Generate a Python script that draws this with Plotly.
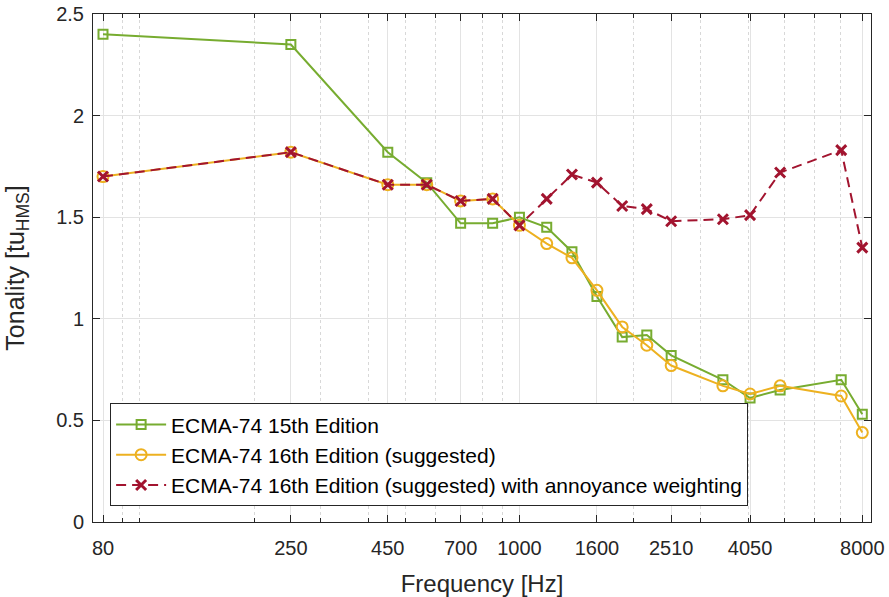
import plotly.graph_objects as go
import math

freq = [80, 250, 450, 570, 700, 850, 1000, 1180, 1375, 1600, 1865, 2165, 2510, 3435, 4050, 4860, 7040, 8000]
ecma15 = [2.40, 2.35, 1.82, 1.67, 1.47, 1.47, 1.50, 1.45, 1.33, 1.11, 0.91, 0.92, 0.82, 0.70, 0.61, 0.65, 0.70, 0.53]
ecma16 = [1.70, 1.82, 1.66, 1.66, 1.58, 1.59, 1.46, 1.37, 1.30, 1.14, 0.96, 0.87, 0.77, 0.67, 0.63, 0.67, 0.62, 0.44]
ecma16w = [1.70, 1.82, 1.66, 1.66, 1.58, 1.59, 1.46, 1.59, 1.71, 1.67, 1.555, 1.54, 1.48, 1.49, 1.51, 1.72, 1.83, 1.35]

xtick_vals = [80, 250, 450, 700, 1000, 1600, 2510, 4050, 8000]
xtick_text = ["80", "250", "450", "700", "1000", "1600", "2510", "4050", "8000"]
xminor_vals = [90, 100, 200, 300, 400, 500, 600, 800, 900, 2000, 3000, 4000, 5000, 6000, 7000]
ytick_vals = [0, 0.5, 1, 1.5, 2, 2.5]

names = ["ECMA-74 15th Edition", "ECMA-74 16th Edition (suggested)",
         "ECMA-74 16th Edition (suggested) with annoyance weighting"]

GREEN = "#77AC30"
ORANGE = "#EDB120"
RED = "#A2142F"
AX = "#262626"
FONT = "Liberation Sans, Arial, sans-serif"

fig = go.Figure()
fig.add_trace(go.Scatter(x=freq, y=ecma15, mode="lines+markers", name=names[0],
                         line=dict(color=GREEN, width=2),
                         marker=dict(symbol="square-open", size=9, color=GREEN, line=dict(width=2))))
fig.add_trace(go.Scatter(x=freq, y=ecma16, mode="lines+markers", name=names[1],
                         line=dict(color=ORANGE, width=2),
                         marker=dict(symbol="circle-open", size=11, color=ORANGE, line=dict(width=2))))
fig.add_trace(go.Scatter(x=freq, y=ecma16w, mode="lines+markers", name=names[2],
                         line=dict(color=RED, width=2, dash="10px,6px"),
                         marker=dict(symbol="x-thin-open", size=10, color=RED, line=dict(width=3, color=RED))))

fig.update_layout(
    width=889, height=597,
    margin=dict(l=93, r=18, t=14, b=75),
    paper_bgcolor="white", plot_bgcolor="white",
    font=dict(family=FONT, color=AX, size=20),
    showlegend=True,
    legend=dict(x=0.022, y=0.031, xanchor="left", yanchor="bottom",
                bgcolor="white", bordercolor=AX, borderwidth=1,
                font=dict(family=FONT, size=21, color="black"),
                itemwidth=50, tracegroupgap=0),
)
fig.update_xaxes(
    type="log", automargin=False,
    range=[math.log10(80) - 10 / 379.5, math.log10(80) + 767.7 / 379.5],
    tickmode="array", tickvals=xtick_vals, ticktext=xtick_text,
    ticks="inside", ticklen=7, tickwidth=1, tickcolor=AX,
    ticklabelstandoff=8,
    showline=True, linecolor=AX, linewidth=1, mirror="ticks",
    showgrid=True, gridcolor="#e3e3e3", gridwidth=1,
    tickfont=dict(size=20, color=AX, family=FONT),
    title=dict(text="Frequency [Hz]", font=dict(size=24, color=AX, family=FONT), standoff=22),
    minor=dict(tickmode="array", tickvals=xminor_vals, ticks="inside", ticklen=4,
               tickcolor=AX, tickwidth=1, showgrid=True, gridcolor="#d8d8d8",
               griddash="dot", gridwidth=1),
    zeroline=False,
)
fig.update_yaxes(
    range=[0, 2.5], automargin=False,
    tickmode="array", tickvals=ytick_vals,
    ticks="inside", ticklen=7, tickwidth=1, tickcolor=AX,
    ticklabelstandoff=4,
    showline=True, linecolor=AX, linewidth=1, mirror="ticks",
    showgrid=True, gridcolor="#e3e3e3", gridwidth=1,
    tickfont=dict(size=20, color=AX, family=FONT),
    title=dict(text="Tonality [tu<sub>HMS</sub>]", font=dict(size=25, color=AX, family=FONT), standoff=24),
    zeroline=False,
)

fig.write_html("out.html")
